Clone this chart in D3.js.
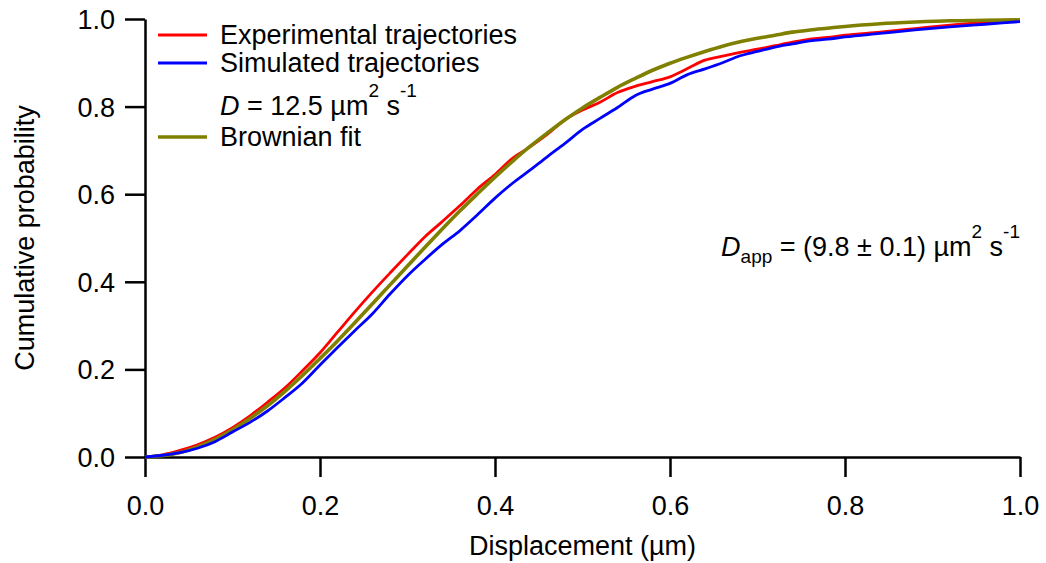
<!DOCTYPE html>
<html><head><meta charset="utf-8">
<script src="https://cdn.jsdelivr.net/npm/d3@7"></script>
<style>
body{margin:0;background:#fff;}
svg text{font-family:"Liberation Sans",Arial,sans-serif;fill:#000;}
</style></head>
<body><svg id="c" width="1046" height="563"></svg>
<script>
const displacement = [0,0.02,0.04,0.06,0.08,0.10,0.12,0.14,0.16,0.18,0.20,0.22,0.24,0.26,0.28,0.30,0.32,0.34,0.36,0.38,0.40,0.42,0.44,0.46,0.48,0.50,0.52,0.54,0.56,0.58,0.60,0.62,0.64,0.66,0.68,0.70,0.72,0.74,0.76,0.78,0.80,0.84,0.88,0.92,0.96,1.00];
const experimental = [0,0.005,0.015,0.028,0.045,0.067,0.094,0.125,0.158,0.197,0.238,0.285,0.332,0.377,0.420,0.462,0.503,0.538,0.574,0.612,0.645,0.682,0.708,0.737,0.770,0.792,0.810,0.832,0.846,0.857,0.868,0.887,0.906,0.915,0.924,0.931,0.939,0.947,0.954,0.958,0.963,0.970,0.978,0.986,0.993,0.998];
const simulated = [0,0.004,0.010,0.020,0.035,0.057,0.079,0.105,0.136,0.169,0.210,0.250,0.289,0.327,0.372,0.414,0.451,0.486,0.517,0.553,0.591,0.625,0.655,0.686,0.716,0.748,0.773,0.798,0.825,0.840,0.853,0.873,0.886,0.900,0.916,0.926,0.936,0.943,0.950,0.954,0.959,0.967,0.975,0.982,0.988,0.994];
const brownian = [0,0.003,0.010,0.023,0.040,0.062,0.088,0.117,0.150,0.186,0.225,0.265,0.307,0.350,0.393,0.436,0.479,0.521,0.562,0.601,0.639,0.675,0.709,0.740,0.770,0.797,0.821,0.844,0.864,0.883,0.899,0.913,0.926,0.938,0.948,0.956,0.963,0.970,0.975,0.979,0.983,0.989,0.993,0.996,0.997,0.998];
const xTicks = [0,0.2,0.4,0.6,0.8,1.0];
const yTicks = [0,0.2,0.4,0.6,0.8,1.0];
const seriesNames = ["Experimental trajectories","Simulated trajectories","Brownian fit"];
const seriesColors = ["#ff0000","#0000ff","#808000"];

const svg = d3.select("#c");
const L=145,R=1020,T=19,B=457;
const x = d3.scaleLinear().domain([0,1]).range([L,R]);
const y = d3.scaleLinear().domain([0,1]).range([B,T]);
const FS = 27;

// axes
const xAxis = svg.append("g").attr("transform",`translate(0,${B})`)
  .call(d3.axisBottom(x).tickValues(xTicks).tickFormat(d3.format(".1f")).tickSize(20).tickSizeOuter(0));
const yAxis = svg.append("g").attr("transform",`translate(${L},0)`)
  .call(d3.axisLeft(y).tickValues(yTicks).tickFormat(d3.format(".1f")).tickSize(20).tickSizeOuter(0));
[xAxis,yAxis].forEach(a=>{
  a.selectAll("path").attr("stroke","#000").attr("stroke-width",2.5);
  a.selectAll("line").attr("stroke","#000").attr("stroke-width",2.5);
  a.selectAll("text").attr("font-size",FS).attr("font-family","Liberation Sans, Arial, sans-serif").attr("fill","#000");
});
xAxis.selectAll("text").attr("dy",null).attr("y",58);
yAxis.selectAll("text").attr("x",-30).attr("dy","0.35em");

svg.append("text").attr("x",(L+R)/2).attr("y",555).attr("text-anchor","middle").attr("font-size",FS).text("Displacement (µm)");
svg.append("text").attr("transform",`translate(34,${(T+B)/2}) rotate(-90)`).attr("text-anchor","middle").attr("font-size",FS).text("Cumulative probability");

// lines
const seriesData = [experimental, brownian, simulated];
const seriesCol = [seriesColors[0], seriesColors[2], seriesColors[1]];
const seriesW = [2.8, 3.6, 2.8];
const line = d3.line().x((d,i)=>x(displacement[i])).y(d=>y(d)).curve(d3.curveMonotoneX);
seriesData.forEach((s,k)=>{
  svg.append("path").datum(s).attr("d",line).attr("fill","none")
    .attr("stroke",seriesCol[k]).attr("stroke-width",seriesW[k]).attr("stroke-linejoin","round");
});

// legend
const leg = [{n:seriesNames[0],c:seriesColors[0],y:35,w:2.8},{n:seriesNames[1],c:seriesColors[1],y:63,w:2.8},{n:seriesNames[2],c:seriesColors[2],y:137,w:3.6}];
leg.forEach(d=>{
  svg.append("line").attr("x1",158).attr("x2",207).attr("y1",d.y).attr("y2",d.y).attr("stroke",d.c).attr("stroke-width",d.w);
  svg.append("text").attr("x",220).attr("y",d.y+9).attr("font-size",FS).text(d.n);
});
const t1 = svg.append("text").attr("x",220).attr("y",115).attr("font-size",FS);
t1.append("tspan").attr("font-style","italic").text("D");
t1.append("tspan").text(" = 12.5 µm");
t1.append("tspan").attr("dy",-18).attr("font-size",19).text("2");
t1.append("tspan").attr("dy",18).text(" s");
t1.append("tspan").attr("dy",-18).attr("font-size",19).text("-1");

const t2 = svg.append("text").attr("x",1020).attr("y",256).attr("font-size",FS).attr("text-anchor","end");
t2.append("tspan").attr("font-style","italic").text("D");
t2.append("tspan").attr("dy",7).attr("font-size",19).text("app");
t2.append("tspan").attr("dy",-7).text(" = (9.8 ± 0.1) µm");
t2.append("tspan").attr("dy",-18).attr("font-size",19).text("2");
t2.append("tspan").attr("dy",18).text(" s");
t2.append("tspan").attr("dy",-18).attr("font-size",19).text("-1");
</script></body></html>
